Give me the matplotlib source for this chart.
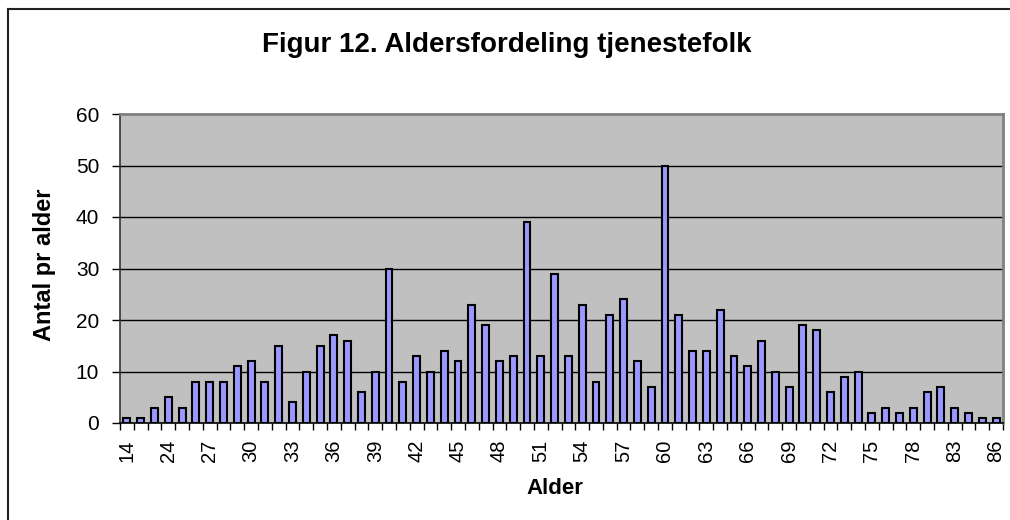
import matplotlib
matplotlib.use("Agg")
import matplotlib.pyplot as plt
from matplotlib.lines import Line2D
import numpy as np

plt.rcParams['font.family'] = ['Liberation Sans', 'DejaVu Sans']

ages = [14, 19, 22] + list(range(24, 79)) + [80, 81, 83, 84, 85, 86]
counts = [1, 1, 3, 5, 3, 8, 8, 8, 11, 12, 8, 15, 4, 10, 15, 17, 16, 6, 10, 30,
          8, 13, 10, 14, 12, 23, 19, 12, 13, 39, 13, 29, 13, 23, 8, 21, 24, 12, 7, 50,
          21, 14, 14, 22, 13, 11, 16, 10, 7, 19, 18, 6, 9, 10, 2, 3, 2, 3, 6, 7,
          3, 2, 1, 1]
title = "Figur 12. Aldersfordeling tjenestefolk"
xlabel = "Alder"
ylabel = "Antal pr alder"
yticks = [0, 10, 20, 30, 40, 50, 60]

W, H = 1010, 520
fig = plt.figure(figsize=(W / 100, H / 100), dpi=100)
fig.patch.set_facecolor('white')

# outer chart frame (left and top visible)
fig.add_artist(Line2D([8 / W, 8 / W], [0, 1 - 9 / H], transform=fig.transFigure,
                      color='#222222', lw=1.5))
fig.add_artist(Line2D([8 / W, 1], [1 - 9 / H, 1 - 9 / H], transform=fig.transFigure,
                      color='#222222', lw=1.5))

left, right, top, bottom = 120, 1003, 114, 423
ax = fig.add_axes([left / W, (H - bottom) / H, (right - left) / W, (bottom - top) / H])
ax.set_facecolor('#C0C0C0')

x = np.arange(len(ages))
ax.bar(x, counts, width=0.5, color='#9999FF', edgecolor='black', linewidth=1.5, zorder=3)

ax.set_xlim(-0.5, len(ages) - 0.5)
ax.set_ylim(0, 60)
ax.set_yticks(yticks)
ax.set_yticklabels([str(v) for v in yticks], fontsize=15)
for v in yticks[1:-1]:
    ax.axhline(v, color='black', lw=1, zorder=1)

ax.set_xticks(x[::3])
ax.set_xticklabels([str(a) for a in ages[::3]], rotation=90, fontsize=14.5)
ax.tick_params(axis='x', which='major', length=0, pad=12)
ax.set_xticks(np.arange(-0.5, len(ages), 1), minor=True)
ax.tick_params(axis='x', which='minor', length=5, width=1, color='black')
ax.tick_params(axis='y', length=6, width=1, color='black', pad=9)

for s in ['top', 'right']:
    ax.spines[s].set_color('#808080')
    ax.spines[s].set_linewidth(2)
ax.spines['left'].set_color('#333333')
ax.spines['bottom'].set_color('black')
ax.spines['left'].set_linewidth(1.2)
ax.spines['bottom'].set_linewidth(1.2)

fig.text(507 / W, 1 - 45 / H, title, ha='center', va='center', fontsize=20, fontweight='bold')
fig.text(45 / W, 1 - 265 / H, ylabel, ha='center', va='center', rotation=90,
         fontsize=17, fontweight='bold')
fig.text(555 / W, 1 - 489 / H, xlabel, ha='center', va='center', fontsize=16, fontweight='bold')

fig.savefig('out.png', dpi=100)
